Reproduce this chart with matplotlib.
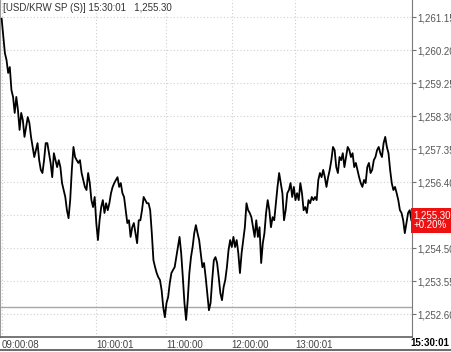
import numpy as np
import matplotlib.pyplot as plt
from matplotlib.lines import Line2D
import matplotlib.transforms as mtransforms

plt.rcParams['font.family'] = ['Liberation Sans', 'DejaVu Sans']

# USD/KRW spot, tick sequence
price = [
    1261.10, 1260.60, 1260.11, 1259.91, 1259.54, 1259.71, 1259.05, 1258.85, 1258.39, 1258.85,
    1258.47, 1257.90, 1258.39, 1258.18, 1257.70, 1257.98, 1258.27, 1258.10, 1257.70, 1257.41,
    1257.12, 1257.32, 1257.52, 1257.03, 1256.75, 1256.66, 1257.03, 1257.52, 1257.52, 1257.23,
    1256.95, 1256.54, 1257.23, 1257.03, 1256.83, 1257.03, 1256.83, 1256.37, 1256.17, 1255.97,
    1255.59, 1255.36, 1255.88, 1256.75, 1257.41, 1257.12, 1257.03, 1256.95, 1257.03, 1256.66,
    1256.46, 1256.26, 1256.17, 1256.66, 1256.37, 1255.88, 1255.68, 1255.97, 1255.22, 1254.73,
    1255.30, 1255.68, 1255.88, 1255.51, 1255.79, 1255.59, 1255.79, 1256.08, 1256.26, 1256.37,
    1256.46, 1256.54, 1256.26, 1256.37, 1256.08, 1255.97, 1255.59, 1255.22, 1255.30, 1254.82,
    1255.10, 1255.22, 1254.93, 1254.64, 1255.30, 1255.30, 1255.59, 1255.97, 1255.88, 1255.79,
    1255.79, 1255.59, 1254.93, 1254.15, 1253.95, 1253.78, 1253.66, 1253.58, 1253.29, 1252.80,
    1252.51, 1252.92, 1253.09, 1253.49, 1253.78, 1253.87, 1253.95, 1254.24, 1254.53, 1254.82,
    1254.35, 1253.66, 1252.92, 1252.43, 1253.00, 1253.78, 1254.24, 1254.53, 1254.93, 1255.16,
    1254.93, 1254.73, 1254.35, 1253.95, 1254.07, 1253.66, 1253.20, 1252.71, 1252.92, 1253.58,
    1254.15, 1254.24, 1254.07, 1253.66, 1253.20, 1253.00, 1253.38, 1253.58, 1253.95, 1254.44,
    1254.73, 1254.53, 1254.82, 1254.53, 1254.73, 1254.35, 1253.78, 1254.35, 1254.73, 1255.10,
    1255.79, 1255.59, 1255.51, 1255.39, 1255.10, 1254.82, 1255.30, 1254.82, 1255.10, 1254.07,
    1254.64, 1254.93, 1255.51, 1255.88, 1255.59, 1255.10, 1255.39, 1255.30, 1255.79, 1256.26,
    1256.66, 1256.37, 1256.08, 1255.30, 1255.59, 1256.08, 1256.17, 1256.37, 1255.97, 1256.26,
    1255.88, 1256.08, 1255.88, 1256.37, 1256.08, 1255.59, 1255.68, 1255.51, 1255.88, 1255.79,
    1255.97, 1255.88, 1255.97, 1255.88, 1256.46, 1256.66, 1256.54, 1256.75, 1256.54, 1256.26,
    1256.54, 1256.75, 1257.03, 1257.41, 1257.32, 1256.83, 1256.66, 1257.12, 1257.03, 1257.23,
    1256.83, 1257.12, 1257.41, 1257.32, 1257.12, 1257.23, 1256.83, 1256.95, 1256.75, 1256.54,
    1256.37, 1256.26, 1256.46, 1256.37, 1256.83, 1256.95, 1256.66, 1256.75, 1257.03, 1257.12,
    1257.32, 1257.41, 1257.23, 1257.12, 1257.52, 1257.70, 1257.41, 1257.23, 1256.75, 1256.37,
    1256.17, 1256.26, 1256.08, 1255.88, 1255.59, 1255.51, 1255.30, 1254.93, 1255.22, 1255.51,
    1255.59, 1255.30,
]
prev_close = 1252.80
change_pct = "+0.20%"
last_time = "15:30:01"

time_idx = [0, 58, 101, 141, 180]
time_labels = ["09:00:08", "10:00:01", "11:00:00", "12:00:00", "13:00:01"]
y_ticks = [1252.60 + 0.95 * k for k in range(10)]

W, H = 451, 352
fig = plt.figure(figsize=(W / 100, H / 100), dpi=100)
fig.patch.set_facecolor("white")
ax = fig.add_axes([0, (H - 337) / H, 412 / W, 337 / H])

x = np.arange(len(price))
ax.plot(x, price, color="black", lw=1.3, zorder=3)
ax.axhline(prev_close, color="#a8a8a8", lw=1.0, zorder=2)

ax.set_xlim(-1, len(price) - 0.6)
ax.set_ylim(1251.94, 1261.64)

# the tick hidden behind the last-price tag gets no label
ylabels = [f"{v:,.2f}" for v in y_ticks]
ylabels[3] = ""
ax.set_yticks(y_ticks)
ax.set_yticklabels(ylabels)
ax.yaxis.tick_right()
ax.tick_params(axis="y", direction="out", length=3, width=0.8, color="#707070",
               labelsize=7, labelcolor="#555555", pad=1)
ax.set_xticks(time_idx)
ax.set_xticklabels(time_labels, ha="left")
ax.tick_params(axis="x", length=0, labelsize=7, labelcolor="#444444", pad=2)

ax.grid(True, color="#cfcfcf", lw=0.8, linestyle=(0, (1, 2)))

ax.spines["top"].set_visible(False)
ax.spines["left"].set_color("#9a9a9a")
ax.spines["right"].set_color("#7a7a7a")
ax.spines["bottom"].set_color("#606060")
ax.spines["bottom"].set_linewidth(1.2)

ax.text(0.008, 0.992, f"[USD/KRW SP (S)] {last_time}   {price[-1]:,.2f}",
        transform=ax.transAxes, ha="left", va="top", fontsize=7, color="#333333")

# last price tag
trans = mtransforms.blended_transform_factory(ax.transAxes, ax.transData)
ax.text(1.004, price[-1], f"{price[-1]:,.2f}\n{change_pct}", transform=trans,
        ha="left", va="center", fontsize=7, color="white", linespacing=1.05,
        clip_on=False, zorder=10,
        bbox=dict(boxstyle="square,pad=0.25", fc="#ee1111", ec="none"))

# bottom time bar
fig.add_artist(Line2D([0, 1], [(H - 349.5) / H] * 2, color="#505050", lw=1.2))
fig.text(449 / W, (H - 343.5) / H, last_time, ha="right", va="center",
         fontsize=7, fontweight="bold", color="black")

fig.savefig("out.png", dpi=100)
